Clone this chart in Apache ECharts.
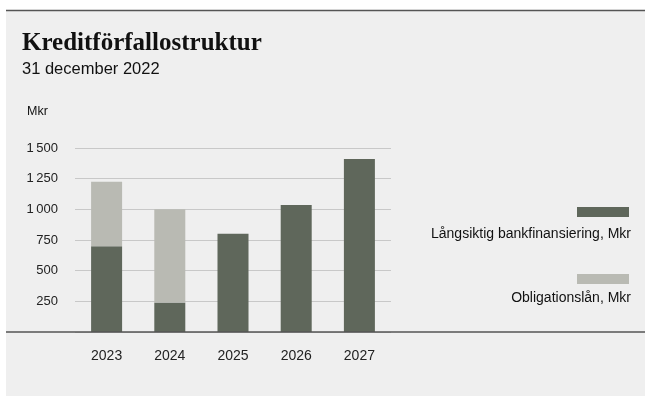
<!-- chart box is fixed to the window size -->
<div id="main"></div>
<script src="https://cdn.jsdelivr.net/npm/echarts@6/dist/echarts.min.js"></script>

<style>
html, body {
	margin: 0;
	padding: 0;
	background-color: #fff;
	overflow: hidden;
}

#main {
	width: 645px;
	height: 396px;
}
</style>

<script>
var years = ['2023', '2024', '2025', '2026', '2027'];
var bankLoans = [700, 240, 800, 1035, 1410];
var bonds = [525, 760, 0, 0, 0];
var seriesNames = ['Långsiktig bankfinansiering, Mkr', 'Obligationslån, Mkr'];
var yTicks = [0, 250, 500, 750, 1000, 1250, 1500];

var sans = 'Liberation Sans, Arial, sans-serif';
var darkColor = '#5f675b';
var lightColor = '#b9bab3';

var chart = echarts.init(document.getElementById('main'));

function fmt(v) {
    if (v === 0) return '';
    var s = String(v);
    if (v >= 1000) s = s.slice(0, s.length - 3) + '\u2009' + s.slice(-3);
    return s;
}

function swatch(name, top) {
    return {
        data: [name],
        left: 577,
        top: top,
        padding: 0,
        itemWidth: 52,
        itemHeight: 10,
        icon: 'rect',
        formatter: function () { return ''; },
        selectedMode: false
    };
}

option = {
    animation: false,
    backgroundColor: '#fff',
    grid: {
        left: 75,
        right: 254,
        top: 148,
        bottom: 64
    },
    legend: [swatch(seriesNames[0], 207), swatch(seriesNames[1], 274)],
    xAxis: {
        type: 'category',
        data: years,
        axisLine: { show: false },
        axisTick: { show: false },
        axisLabel: {
            margin: 17,
            color: '#222',
            fontFamily: sans,
            fontSize: 14
        }
    },
    yAxis: {
        type: 'value',
        min: yTicks[0],
        max: yTicks[yTicks.length - 1],
        interval: 250,
        axisLine: { show: false },
        axisTick: { show: false },
        splitLine: { lineStyle: { color: '#c8c8c8', width: 1 } },
        axisLabel: {
            margin: 17,
            color: '#222',
            fontFamily: sans,
            fontSize: 13,
            formatter: fmt
        }
    },
    graphic: [
        { type: 'rect', z: -10, shape: { x: 6, y: 10, width: 645, height: 396 }, style: { fill: '#efefef' } },
        { type: 'line', shape: { x1: 6, y1: 10.5, x2: 645, y2: 10.5 }, style: { stroke: '#555', lineWidth: 1.5 } },
        { type: 'line', z: 10, shape: { x1: 6, y1: 332, x2: 645, y2: 332 }, style: { stroke: '#555', lineWidth: 1.5 } },
        { type: 'text', x: 22, y: 31, style: { text: 'Kreditförfallostruktur', font: 'bold 25px "Liberation Serif", serif', fill: '#111' } },
        { type: 'text', x: 22, y: 61, style: { text: '31 december 2022', font: '16.5px ' + sans, fill: '#111' } },
        { type: 'text', left: 27, top: 105, style: { text: 'Mkr', font: '12.5px ' + sans, fill: '#111' } },
        { type: 'text', right: 14, top: 227, style: { text: seriesNames[0], font: '14px ' + sans, fill: '#111' } },
        { type: 'text', right: 14, top: 291, style: { text: seriesNames[1], font: '14px ' + sans, fill: '#111' } }
    ],
    series: [
        {
            name: seriesNames[0],
            type: 'bar',
            stack: 'total',
            barWidth: 31,
            itemStyle: { color: darkColor },
            data: bankLoans
        },
        {
            name: seriesNames[1],
            type: 'bar',
            stack: 'total',
            barWidth: 31,
            itemStyle: { color: lightColor },
            data: bonds
        }
    ]
};

chart.setOption(option);
</script>
